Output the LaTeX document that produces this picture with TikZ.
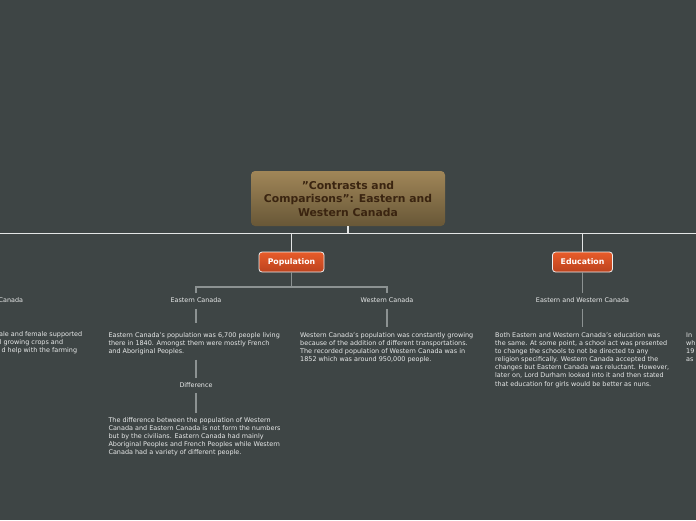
\documentclass[tikz,border=0pt]{standalone}
\usepackage{fontspec}
\setmainfont{DejaVu Sans}
\definecolor{bg}{RGB}{62,69,69}
\definecolor{rootTop}{RGB}{160,134,88}
\definecolor{rootBot}{RGB}{104,87,55}
\definecolor{rootText}{RGB}{58,36,16}
\definecolor{popTop}{RGB}{232,92,42}
\definecolor{popBot}{RGB}{188,66,30}
\definecolor{mainLine}{RGB}{228,230,230}
\definecolor{subLine}{RGB}{140,146,146}
\definecolor{txt}{RGB}{232,234,234}
\tikzset{
  rootbox/.style={rounded corners=4pt, top color=rootTop, bottom color=rootBot,
    minimum width=194pt, minimum height=55pt, align=center, text=rootText,
    font=\fontsize{10.8}{13.5}\selectfont\bfseries, inner sep=0pt},
  topicbox/.style={rounded corners=3pt, draw=white!88!gray, line width=0.8pt,
    top color=popTop, bottom color=popBot, minimum height=20pt, text=white,
    font=\fontsize{7.8}{9}\selectfont\bfseries, inner sep=0pt},
  lbl/.style={text=txt, font=\fontsize{6.4}{8}\selectfont, inner sep=0pt},
  para/.style={text=txt, font=\fontsize{6.45}{8.1}\selectfont, align=left, inner sep=0pt, anchor=north west},
  mainline/.style={draw=mainLine, line width=1.4pt},
  subline/.style={draw=subLine, line width=1.1pt},
}
\begin{document}
\begin{tikzpicture}[x=1pt,y=-1pt]
\fill[bg] (0,0) rectangle (696,520);
\useasboundingbox (0,0) rectangle (696,520);
\clip (0,0) rectangle (696,520);

% root and main topics
\node[rootbox] (root) at (348,198.5) {{\char34}Contrasts and\\Comparisons{\char34}: Eastern and\\Western Canada};
\node[topicbox, minimum width=65pt] (pop) at (291.5,262) {Population};
\node[topicbox, minimum width=60pt] (edu) at (582.5,262) {Education};

\coordinate (barL) at (0,233.5);
\coordinate (barR) at (696,233.5);
\draw[mainline] (root.south) -- (root.south |- barL);
\draw[mainline] (barL) -- (barR);
\draw[mainline] (pop.north) -- (pop.north |- barL);
\draw[mainline] (edu.north) -- (edu.north |- barL);

% labels
\node[lbl] (ec) at (196,300.5) {Eastern Canada};
\node[lbl] (wc) at (387,300.5) {Western Canada};
\node[lbl] (eawc) at (582.5,300.5) {Eastern and Western Canada};
\node[lbl] (diff) at (196,385.5) {Difference};
\node[lbl, anchor=east] (lcan) at (23.3,300.5) {Canada};

% paragraphs
\node[para] (ectext) at (108.3,332.3) {Eastern Canada's population was 6,700 people living\\there in 1840. Amongst them were mostly French\\and Aboriginal Peoples.};
\node[para] (difftext) at (108.3,417.3) {The difference between the population of Western\\Canada and Eastern Canada is not form the numbers\\but by the civilians. Eastern Canada had mainly\\Aboriginal Peoples and French Peoples while Western\\Canada had a variety of different people.};
\node[para] (wctext) at (300,332.3) {Western Canada's population was constantly growing\\because of the addition of different transportations.\\The recorded population of Western Canada was in\\1852 which was around 950,000 people.};
\node[para] (edutext) at (495,332.3) {Both Eastern and Western Canada's education was\\the same. At some point, a school act was presented\\to change the schools to not be directed to any\\religion specifically. Western Canada accepted the\\changes but Eastern Canada was reluctant. However,\\later on, Lord Durham looked into it and then stated\\that education for girls would be better as nuns.};
\node[para] (rtext) at (686,332.3) {In\\wh\\19\\as};
\node[lbl, font=\fontsize{6.45}{8}\selectfont, anchor=base east] (l1) at (82.5,336) {ale and female supported};
\node[lbl, font=\fontsize{6.45}{8}\selectfont, anchor=base east] (l2) at (63.3,344) {l growing crops and};
\node[lbl, font=\fontsize{6.45}{8}\selectfont, anchor=base east] (l3) at (77.3,352) {d help with the farming};

% population branch
\coordinate (pb) at (291.5,287);
\draw[subline] (pop.south) -- (pb);
\draw[subline, shorten <=4.5pt, shorten >=4.5pt] (ec.north) -- (ec.north |- pb) -- (wc.north |- pb) -- (wc.north);
\draw[subline, shorten <=6pt, shorten >=9.5pt] (ec.south) -- (ec.south |- ectext.north);
\draw[subline, shorten <=4.5pt, shorten >=5pt] (ec.south |- ectext.south) -- (diff.north);
\draw[subline, shorten <=5pt, shorten >=4.5pt] (diff.south) -- (diff.south |- difftext.north);
\draw[subline, shorten <=6pt, shorten >=5.5pt] (wc.south) -- (wc.south |- wctext.north);

% education branch
\draw[subline, shorten >=4.5pt] (edu.south) -- (eawc.north);
\draw[subline, shorten <=6pt, shorten >=5.5pt] (eawc.south) -- (eawc.south |- edutext.north);
\end{tikzpicture}
\end{document}
